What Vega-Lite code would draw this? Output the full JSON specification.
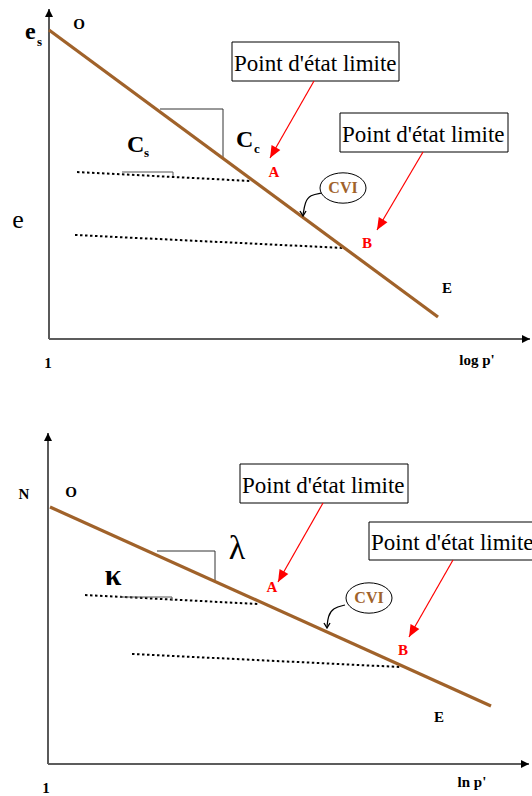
{
  "$schema": "https://vega.github.io/schema/vega-lite/v6.json",
  "width": 532,
  "height": 796,
  "autosize": {"type": "fit", "contains": "padding"},
  "padding": 0,
  "background": "white",
  "config": {"view": {"stroke": null}},
  "datasets": {
    "segments": [
      {"kind": "yaxis", "x": 49, "y": 339, "x2": 49, "y2": 9},
      {"kind": "xaxis", "x": 49, "y": 339, "x2": 530, "y2": 339},
      {"kind": "ncl", "x": 49, "y": 30, "x2": 438, "y2": 317},
      {"kind": "url", "x": 77, "y": 172, "x2": 251, "y2": 181},
      {"kind": "url", "x": 75, "y": 235, "x2": 344, "y2": 248},
      {"kind": "slope", "x": 160, "y": 109, "x2": 223, "y2": 109},
      {"kind": "slope", "x": 223, "y": 109, "x2": 223, "y2": 158},
      {"kind": "tick", "x": 122, "y": 172, "x2": 173, "y2": 172},
      {"kind": "tick", "x": 173, "y": 172, "x2": 173, "y2": 176},
      {"kind": "pointer", "x": 314, "y": 81, "x2": 270, "y2": 158},
      {"kind": "pointer", "x": 423, "y": 152, "x2": 377, "y2": 230},
      {"kind": "yaxis", "x": 48, "y": 764, "x2": 48, "y2": 433},
      {"kind": "xaxis", "x": 48, "y": 764, "x2": 529, "y2": 764},
      {"kind": "ncl", "x": 50, "y": 507, "x2": 491, "y2": 706},
      {"kind": "url", "x": 85, "y": 595, "x2": 258, "y2": 604},
      {"kind": "url", "x": 132, "y": 654, "x2": 400, "y2": 667},
      {"kind": "slope", "x": 157, "y": 551, "x2": 215, "y2": 551},
      {"kind": "slope", "x": 215, "y": 551, "x2": 215, "y2": 581},
      {"kind": "tick", "x": 120, "y": 597, "x2": 172, "y2": 597},
      {"kind": "tick", "x": 172, "y": 597, "x2": 172, "y2": 601},
      {"kind": "pointer", "x": 323, "y": 503, "x2": 278, "y2": 582},
      {"kind": "pointer", "x": 453, "y": 560, "x2": 409, "y2": 637}
    ],
    "boxes": [
      {"x": 232, "y": 42, "x2": 399, "y2": 81, "label": "Point d'état limite"},
      {"x": 340, "y": 113, "x2": 508, "y2": 152, "label": "Point d'état limite"},
      {"x": 240, "y": 464, "x2": 408, "y2": 503, "label": "Point d'état limite"},
      {"x": 369, "y": 522, "x2": 540, "y2": 560, "label": "Point d'état limite"}
    ],
    "curves": [
      {"curve": "top", "order": 1, "x": 322, "y": 193},
      {"curve": "top", "order": 2, "x": 310, "y": 195},
      {"curve": "top", "order": 3, "x": 305, "y": 202},
      {"curve": "top", "order": 4, "x": 303, "y": 215},
      {"curve": "bottom", "order": 1, "x": 345, "y": 605},
      {"curve": "bottom", "order": 2, "x": 333, "y": 608},
      {"curve": "bottom", "order": 3, "x": 328, "y": 616},
      {"curve": "bottom", "order": 4, "x": 327, "y": 627}
    ],
    "tips": [
      {"x": 303, "y": 216},
      {"x": 327, "y": 628}
    ],
    "ellipses": [
      {"x": 343, "y": 188, "label": "CVI"},
      {"x": 369, "y": 598, "label": "CVI"}
    ],
    "labels": [
      {"role": "plain", "x": 79, "y": 29, "label": "O"},
      {"role": "plain", "x": 447, "y": 293, "label": "E"},
      {"role": "plain", "x": 477, "y": 365, "label": "log p'"},
      {"role": "plain", "x": 48, "y": 368, "label": "1"},
      {"role": "plain", "x": 24, "y": 499, "label": "N"},
      {"role": "plain", "x": 71, "y": 497, "label": "O"},
      {"role": "plain", "x": 439, "y": 722, "label": "E"},
      {"role": "plain", "x": 472, "y": 787, "label": "ln p'"},
      {"role": "plain", "x": 46, "y": 793, "label": "1"},
      {"role": "big", "x": 25, "y": 39, "label": "e"},
      {"role": "big", "x": 127, "y": 152, "label": "C"},
      {"role": "big", "x": 236, "y": 147, "label": "C"},
      {"role": "sub", "x": 37, "y": 46, "label": "s"},
      {"role": "sub", "x": 144, "y": 157, "label": "s"},
      {"role": "sub", "x": 254, "y": 153, "label": "c"},
      {"role": "point", "x": 274, "y": 177, "label": "A"},
      {"role": "point", "x": 367, "y": 248, "label": "B"},
      {"role": "point", "x": 272, "y": 592, "label": "A"},
      {"role": "point", "x": 403, "y": 655, "label": "B"},
      {"role": "axis", "x": 18, "y": 228, "label": "e"},
      {"role": "greek", "x": 237, "y": 559, "label": "λ"},
      {"role": "kappa", "x": 113, "y": 585, "label": "κ"}
    ]
  },
  "encoding": {
    "x": {"field": "x", "type": "quantitative", "scale": {"domain": [0, 532], "nice": false, "zero": false}, "axis": null},
    "y": {"field": "y", "type": "quantitative", "scale": {"domain": [0, 796], "nice": false, "zero": false, "reverse": true}, "axis": null}
  },
  "layer": [
    {
      "data": {"name": "boxes"},
      "mark": {"type": "rect", "fill": "white", "stroke": "black", "strokeWidth": 1, "clip": true},
      "encoding": {"x2": {"field": "x2"}, "y2": {"field": "y2"}}
    },
    {
      "data": {"name": "boxes"},
      "mark": {"type": "text", "font": "Liberation Serif", "fontSize": 23, "align": "left", "baseline": "alphabetic", "dx": 2, "color": "black", "clip": true},
      "encoding": {"y": {"field": "y2", "type": "quantitative"}, "text": {"field": "label"}, "yOffset": {"value": -10}}
    },
    {
      "data": {"name": "segments"},
      "transform": [{"filter": "datum.kind == 'yaxis'"}],
      "mark": {"type": "rule", "color": "black", "strokeWidth": 1.3},
      "encoding": {"x2": {"field": "x2"}, "y2": {"field": "y2"}}
    },
    {
      "data": {"name": "segments"},
      "transform": [{"filter": "datum.kind == 'xaxis'"}],
      "mark": {"type": "rule", "color": "#5c5c5c", "strokeWidth": 2},
      "encoding": {"x2": {"field": "x2"}, "y2": {"field": "y2"}}
    },
    {
      "data": {"name": "segments"},
      "transform": [{"filter": "datum.kind == 'url'"}],
      "mark": {"type": "rule", "color": "black", "strokeWidth": 2, "strokeDash": [2.5, 2.5]},
      "encoding": {"x2": {"field": "x2"}, "y2": {"field": "y2"}}
    },
    {
      "data": {"name": "segments"},
      "transform": [{"filter": "datum.kind == 'slope'"}],
      "mark": {"type": "rule", "color": "#333333", "strokeWidth": 1},
      "encoding": {"x2": {"field": "x2"}, "y2": {"field": "y2"}}
    },
    {
      "data": {"name": "segments"},
      "transform": [{"filter": "datum.kind == 'tick'"}],
      "mark": {"type": "rule", "color": "#555555", "strokeWidth": 1},
      "encoding": {"x2": {"field": "x2"}, "y2": {"field": "y2"}}
    },
    {
      "data": {"name": "segments"},
      "transform": [{"filter": "datum.kind == 'ncl'"}],
      "mark": {"type": "rule", "color": "#A0622A", "strokeWidth": 3.2},
      "encoding": {"x2": {"field": "x2"}, "y2": {"field": "y2"}}
    },
    {
      "data": {"name": "segments"},
      "transform": [{"filter": "datum.kind == 'pointer'"}],
      "mark": {"type": "rule", "color": "#FF0000", "strokeWidth": 1.2},
      "encoding": {"x2": {"field": "x2"}, "y2": {"field": "y2"}}
    },
    {
      "data": {"name": "segments"},
      "transform": [
        {"filter": "datum.kind == 'pointer'"},
        {"calculate": "atan2(datum.x2 - datum.x, datum.y - datum.y2) * 180 / PI", "as": "angle"}
      ],
      "mark": {"type": "point", "shape": "M0,0L-0.42,1L0.42,1Z", "filled": true, "color": "#FF0000", "opacity": 1, "size": 576},
      "encoding": {
        "x": {"field": "x2", "type": "quantitative"},
        "y": {"field": "y2", "type": "quantitative"},
        "angle": {"field": "angle", "type": "quantitative", "scale": null}
      }
    },
    {
      "data": {"name": "segments"},
      "transform": [
        {"filter": "datum.kind == 'yaxis' || datum.kind == 'xaxis'"},
        {"calculate": "atan2(datum.x2 - datum.x, datum.y - datum.y2) * 180 / PI", "as": "angle"}
      ],
      "mark": {"type": "point", "shape": "M0,0L-0.5,1L0.5,1Z", "filled": true, "color": "black", "opacity": 1, "size": 256},
      "encoding": {
        "x": {"field": "x2", "type": "quantitative"},
        "y": {"field": "y2", "type": "quantitative"},
        "angle": {"field": "angle", "type": "quantitative", "scale": null}
      }
    },
    {
      "data": {"name": "curves"},
      "mark": {"type": "line", "color": "black", "strokeWidth": 1.2, "interpolate": "basis"},
      "encoding": {"detail": {"field": "curve"}, "order": {"field": "order", "type": "quantitative"}}
    },
    {
      "data": {"name": "tips"},
      "mark": {"type": "point", "shape": "M-0.6,-1L0,0L0.6,-1", "filled": false, "color": "black", "strokeWidth": 1.4, "opacity": 1, "size": 100},
      "encoding": {}
    },
    {
      "data": {"name": "ellipses"},
      "mark": {"type": "point", "shape": "M-1,0C-1,-0.3645 -0.5523,-0.66 0,-0.66C0.5523,-0.66 1,-0.3645 1,0C1,0.3645 0.5523,0.66 0,0.66C-0.5523,0.66 -1,0.3645 -1,0Z", "filled": true, "fill": "white", "stroke": "black", "strokeWidth": 1, "opacity": 1, "size": 2116},
      "encoding": {}
    },
    {
      "data": {"name": "ellipses"},
      "mark": {"type": "text", "font": "Liberation Serif", "fontWeight": "bold", "fontSize": 16, "align": "center", "baseline": "middle", "color": "#A0622A"},
      "encoding": {"text": {"field": "label"}}
    },
    {
      "data": {"name": "labels"},
      "transform": [{"filter": "datum.role == 'plain'"}],
      "mark": {"type": "text", "font": "Liberation Serif", "fontWeight": "bold", "fontSize": 15, "align": "center", "baseline": "alphabetic", "color": "black"},
      "encoding": {"text": {"field": "label"}}
    },
    {
      "data": {"name": "labels"},
      "transform": [{"filter": "datum.role == 'big'"}],
      "mark": {"type": "text", "font": "Liberation Serif", "fontWeight": "bold", "fontSize": 24, "align": "left", "baseline": "alphabetic", "color": "black"},
      "encoding": {"text": {"field": "label"}}
    },
    {
      "data": {"name": "labels"},
      "transform": [{"filter": "datum.role == 'sub'"}],
      "mark": {"type": "text", "font": "Liberation Serif", "fontWeight": "bold", "fontSize": 13, "align": "left", "baseline": "alphabetic", "color": "black"},
      "encoding": {"text": {"field": "label"}}
    },
    {
      "data": {"name": "labels"},
      "transform": [{"filter": "datum.role == 'point'"}],
      "mark": {"type": "text", "font": "Liberation Serif", "fontWeight": "bold", "fontSize": 15, "align": "center", "baseline": "alphabetic", "color": "#FF0000"},
      "encoding": {"text": {"field": "label"}}
    },
    {
      "data": {"name": "labels"},
      "transform": [{"filter": "datum.role == 'axis'"}],
      "mark": {"type": "text", "font": "Liberation Serif", "fontSize": 26, "align": "center", "baseline": "alphabetic", "color": "black"},
      "encoding": {"text": {"field": "label"}}
    },
    {
      "data": {"name": "labels"},
      "transform": [{"filter": "datum.role == 'greek'"}],
      "mark": {"type": "text", "font": "Liberation Serif", "fontSize": 34, "align": "center", "baseline": "alphabetic", "color": "black"},
      "encoding": {"text": {"field": "label"}}
    },
    {
      "data": {"name": "labels"},
      "transform": [{"filter": "datum.role == 'kappa'"}],
      "mark": {"type": "text", "font": "Liberation Serif", "fontWeight": "bold", "fontSize": 30, "align": "center", "baseline": "alphabetic", "color": "black"},
      "encoding": {"text": {"field": "label"}}
    }
  ]
}
